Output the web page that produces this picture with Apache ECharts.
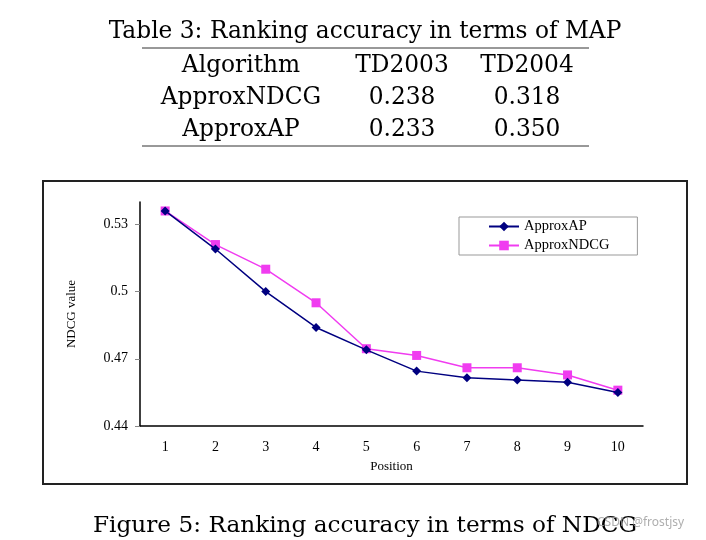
<!DOCTYPE html>
<html><head><meta charset="utf-8">
<script src="https://cdn.jsdelivr.net/npm/echarts@6/dist/echarts.min.js"></script>
<style>html,body{margin:0;padding:0;background:#fff}#c{width:706px;height:540px}</style>
</head><body><div id="c"></div>
<script>
const positions = ['1','2','3','4','5','6','7','8','9','10'];
const approxAP   = [0.536, 0.519, 0.500, 0.484, 0.474, 0.4645, 0.4615, 0.4605, 0.4595, 0.455];
const approxNDCG = [0.536, 0.521, 0.510, 0.495, 0.4745, 0.4715, 0.466, 0.466, 0.4628, 0.456];
const yTicks = [0.44, 0.47, 0.5, 0.53];
const tableHeader = ['Algorithm', 'TD2003', 'TD2004'];
const tableRows = [['ApproxNDCG', '0.238', '0.318'], ['ApproxAP', '0.233', '0.350']];
const tableTitle = 'Table 3: Ranking accuracy in terms of MAP';
const figCaption = 'Figure 5: Ranking accuracy in terms of NDCG';

const serif = '"DejaVu Serif", serif';
const times = '"Liberation Serif", serif';
const colX = [241, 402, 527];
const rowY = [66, 98, 130];
const g = [];
g.push({type:'text', x:365, y:32, style:{text:tableTitle, font:'23.3px '+serif, fill:'#000', align:'center', verticalAlign:'middle'}});
g.push({type:'line', shape:{x1:142,y1:48,x2:589,y2:48}, style:{stroke:'#333',lineWidth:1}});
g.push({type:'line', shape:{x1:142,y1:146,x2:589,y2:146}, style:{stroke:'#333',lineWidth:1}});
[tableHeader].concat(tableRows).forEach((row, ri) => {
  row.forEach((cell, ci) => {
    g.push({type:'text', x:colX[ci], y:rowY[ri], style:{text:cell, font:'23.3px '+serif, fill:'#000', align:'center', verticalAlign:'middle'}});
  });
});
g.push({type:'rect', shape:{x:43,y:181,width:644,height:303}, style:{fill:'none', stroke:'#222', lineWidth:2}, z:-1});
g.push({type:'text', x:365, y:526, style:{text:figCaption, font:'23.2px '+serif, fill:'#000', align:'center', verticalAlign:'middle'}});
g.push({type:'text', x:597, y:523, style:{text:'CSDN @frostjsy', font:'12px "Noto Sans", sans-serif', fill:'rgba(160,160,160,0.85)', verticalAlign:'middle'}, z:10});

const chart = echarts.init(document.getElementById('c'));
chart.setOption({
  animation:false,
  textStyle:{fontFamily:times},
  grid:{left:140, right:63, top:202, bottom:114},
  legend:{
    left:459, top:217, orient:'vertical', padding:[2,28,2,29], itemGap:4,
    itemWidth:30, itemHeight:12, borderColor:'#999', borderWidth:1,
    textStyle:{fontFamily:times, fontSize:14.5, color:'#000'},
    data:['ApproxAP','ApproxNDCG']
  },
  xAxis:{
    type:'category', data:positions, boundaryGap:true,
    name:'Position', nameLocation:'middle', nameGap:34,
    nameTextStyle:{fontFamily:times, fontSize:13, color:'#000'},
    axisLine:{lineStyle:{color:'#000', width:1.5}},
    axisTick:{inside:true, length:7, lineStyle:{color:'#888'}},
    axisLabel:{fontFamily:times, fontSize:14, color:'#000', margin:14}
  },
  yAxis:{
    type:'value', min:0.44, max:0.54, interval:0.03,
    name:'NDCG value', nameLocation:'middle', nameGap:62, nameRotate:90,
    nameTextStyle:{fontFamily:times, fontSize:13, color:'#000'},
    axisLine:{show:true, lineStyle:{color:'#000', width:1.5}},
    axisTick:{show:true, length:5, customValues:yTicks, lineStyle:{color:'#888'}},
    axisLabel:{fontFamily:times, fontSize:14, color:'#000', margin:12, customValues:yTicks},
    splitLine:{show:false}
  },
  series:[
    {name:'ApproxAP', type:'line', data:approxAP, symbol:'diamond', symbolSize:9,
     itemStyle:{color:'#000080'}, lineStyle:{color:'#000080', width:1.5}, z:3},
    {name:'ApproxNDCG', type:'line', data:approxNDCG, symbol:'rect', symbolSize:9,
     itemStyle:{color:'#f03cf0'}, lineStyle:{color:'#f03cf0', width:1.5}, z:2}
  ],
  graphic:g
});
</script></body></html>
